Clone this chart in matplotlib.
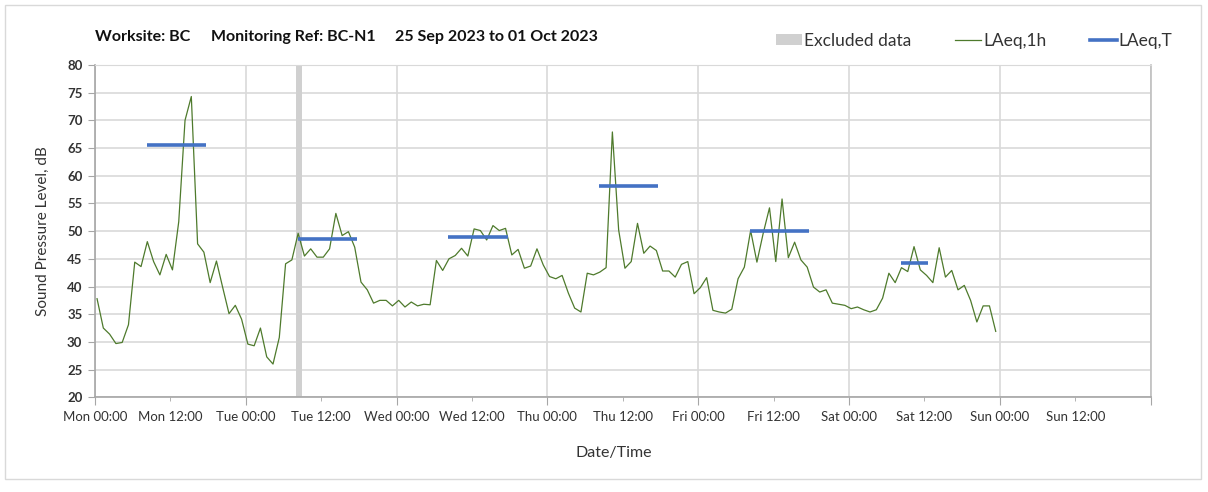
import numpy as np
import pandas as pd
import matplotlib
matplotlib.use('Agg')
import matplotlib.pyplot as plt
import matplotlib.dates as mdates
from matplotlib.patches import Rectangle, Patch
from matplotlib.lines import Line2D

plt.rcParams['font.family'] = ['Lato', 'DejaVu Sans']

# Stundenwerte LAeq,1h (Mo 25.09. bis Sa 30.09.)
laeq_mon = [37.8, 32.5, 31.4, 29.7, 29.9, 33.1, 44.4, 43.6, 48.1, 44.5, 42.1, 45.8,
            43.0, 51.7, 70.0, 74.3, 47.7, 46.2, 40.7, 44.6, 39.8, 35.1, 36.6, 34.1]
laeq_tue = [29.6, 29.3, 32.5, 27.3, 26.0, 30.8, 44.1, 44.8, 49.6, 45.5, 46.8, 45.3,
            45.3, 46.8, 53.2, 49.2, 49.9, 47.1, 40.8, 39.4, 37.0, 37.5, 37.5, 36.5]
laeq_wed = [37.5, 36.3, 37.2, 36.5, 36.8, 36.7, 44.7, 42.9, 45.0, 45.6, 46.9, 45.5,
            50.4, 50.1, 48.4, 51.0, 50.1, 50.5, 45.7, 46.7, 43.3, 43.7, 46.8, 43.9]
laeq_thu = [41.8, 41.4, 42.0, 38.8, 36.1, 35.4, 42.4, 42.1, 42.6, 43.4, 67.9, 50.2,
            43.3, 44.5, 51.4, 46.0, 47.3, 46.5, 42.8, 42.8, 41.7, 44.0, 44.5, 38.7]
laeq_fri = [39.8, 41.6, 35.7, 35.4, 35.2, 35.9, 41.4, 43.5, 50.1, 44.4, 49.6, 54.2,
            44.5, 55.8, 45.2, 48.0, 44.8, 43.5, 39.9, 39.0, 39.4, 37.0, 36.8, 36.6]
laeq_sat = [36.0, 36.3, 35.8, 35.4, 35.8, 37.9, 42.4, 40.7, 43.4, 42.7, 47.2, 43.0,
            42.0, 40.7, 47.0, 41.7, 42.9, 39.4, 40.2, 37.5, 33.6, 36.5, 36.5, 31.9]
laeq_1h = laeq_mon + laeq_tue + laeq_wed + laeq_thu + laeq_fri + laeq_sat
erster_wert = '2023-09-25 00:20'

# LAeq,T Tagesperioden
periode_start = ['2023-09-25 08:15', '2023-09-26 08:15', '2023-09-27 08:15',
                 '2023-09-28 08:15', '2023-09-29 08:15', '2023-09-30 08:15']
periode_ende = ['2023-09-25 17:40', '2023-09-26 17:40', '2023-09-27 17:40',
                '2023-09-28 17:40', '2023-09-29 17:40', '2023-09-30 12:30']
laeq_t = [65.6, 48.6, 48.9, 58.1, 50.1, 44.2]

# Ausgeschlossene Daten
ausgeschlossen = [('2023-09-26 08:00', '2023-09-26 08:55')]

titel_teile = ['Worksite: BC', 'Monitoring Ref: BC-N1', '25 Sep 2023 to 01 Oct 2023']

zeiten = pd.date_range(erster_wert, periods=len(laeq_1h), freq='h')
x_start = pd.Timestamp('2023-09-25 00:00')
x_ende = pd.Timestamp('2023-10-02 00:00')

fig = plt.figure(figsize=(12.08, 4.92), dpi=100)
ax = fig.add_axes([0.0786, 0.1925, 0.874, 0.6755])

# Rahmen um die ganze Grafik
fig.patches.append(Rectangle((5 / 1208, 13 / 492), 1196 / 1208, 474 / 492,
                             transform=fig.transFigure, fill=False,
                             edgecolor='#d9d9d9', linewidth=1.0))

for a, b in ausgeschlossen:
    ax.axvspan(pd.Timestamp(a), pd.Timestamp(b), color='#d0d0d0', lw=0, zorder=1)

ax.plot(zeiten, laeq_1h, color='#4e7a2c', lw=0.9, zorder=3)

for s, e, v in zip(periode_start, periode_ende, laeq_t):
    ax.plot([pd.Timestamp(s), pd.Timestamp(e)], [v, v], color='#4472c4',
            lw=2.6, solid_capstyle='butt', zorder=4)

ax.set_xlim(x_start, x_ende)
ax.set_ylim(20, 80)
ax.set_yticks(np.arange(20, 81, 5))

# Beschriftung: letzter Tick (Mon 00:00 rechts) bleibt leer
def zeit_label(x, pos=None):
    d = mdates.num2date(x).replace(tzinfo=None)
    if d >= x_ende:
        return ''
    return d.strftime('%a %H:%M')

ax.xaxis.set_major_locator(mdates.HourLocator(byhour=[0]))
ax.xaxis.set_minor_locator(mdates.HourLocator(byhour=[12]))
ax.xaxis.set_major_formatter(plt.FuncFormatter(zeit_label))
ax.xaxis.set_minor_formatter(plt.FuncFormatter(zeit_label))
ax.tick_params(axis='x', which='major', length=6, color='#a6a6a6',
               labelsize=9.5, labelcolor='#333333', pad=4)
ax.tick_params(axis='x', which='minor', length=3, color='#a6a6a6',
               labelsize=9.5, labelcolor='#333333', pad=7)
ax.tick_params(axis='y', length=5, color='#a6a6a6', labelsize=9.5,
               labelcolor='#333333', pad=4)
for lab in ax.get_yticklabels():
    lab.set_fontweight('bold')

ax.grid(True, which='major', color='#d9d9d9', lw=1.2, zorder=0)
ax.set_axisbelow(True)
for side in ['left', 'bottom']:
    ax.spines[side].set_color('#a6a6a6')
    ax.spines[side].set_linewidth(1.2)
ax.spines['right'].set_color('#bfbfbf')
ax.spines['right'].set_linewidth(1.2)
ax.spines['top'].set_color('#d9d9d9')

ax.set_ylabel('Sound Pressure Level, dB', fontsize=11, color='#333333', labelpad=12)
fig.text(0.508, 0.071, 'Date/Time', fontsize=11.5, color='#333333', ha='center')

for x, t in zip([95, 211, 395], titel_teile):
    fig.text(x / 1208, 1 - 37 / 492, t, fontsize=11.5, fontweight='bold',
             color='#111111', va='center')

handles = [Patch(facecolor='#d0d0d0', edgecolor='none'),
           Line2D([], [], color='#4e7a2c', lw=0.9),
           Line2D([], [], color='#4472c4', lw=2.6)]
fig.legend(handles, ['Excluded data', 'LAeq,1h', 'LAeq,T'], ncol=3,
           loc='center right', bbox_to_anchor=(1172 / 1208, 1 - 41 / 492),
           frameon=False, fontsize=12.5, handlelength=1.5, handleheight=0.6,
           handletextpad=0.1, columnspacing=2.55, borderpad=0, borderaxespad=0,
           labelcolor='#333333')

fig.savefig('out.png', dpi=100)
